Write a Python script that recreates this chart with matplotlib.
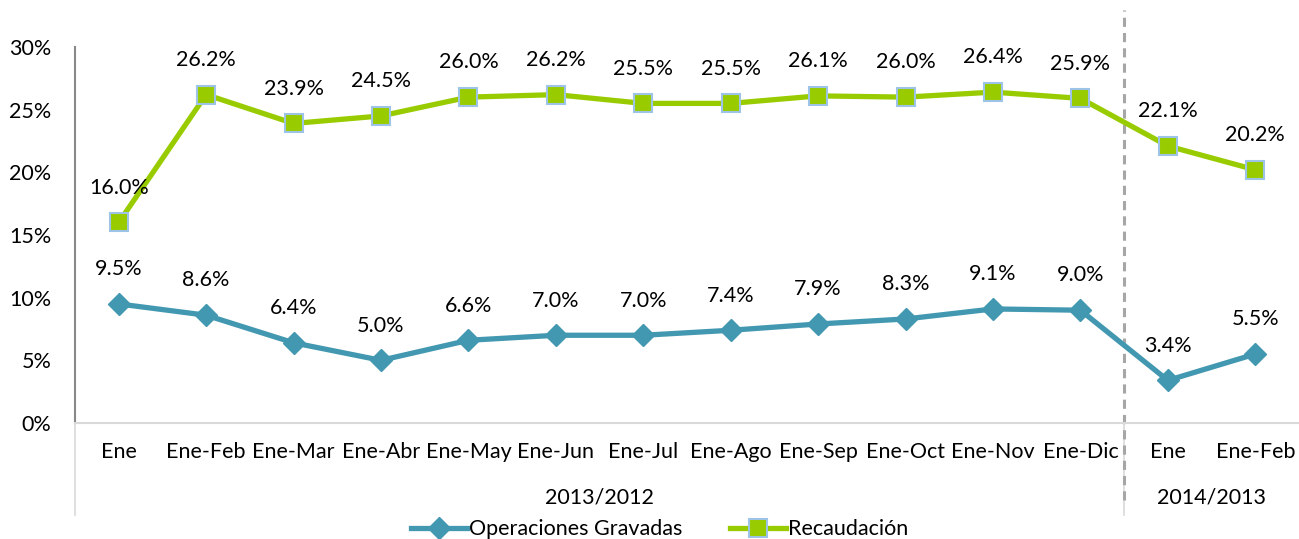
import matplotlib.pyplot as plt
from matplotlib.ticker import FuncFormatter
import matplotlib.transforms as mtransforms

plt.rcParams['font.family'] = ['Lato', 'DejaVu Sans']

categories = ['Ene', 'Ene-Feb', 'Ene-Mar', 'Ene-Abr', 'Ene-May', 'Ene-Jun', 'Ene-Jul',
              'Ene-Ago', 'Ene-Sep', 'Ene-Oct', 'Ene-Nov', 'Ene-Dic', 'Ene', 'Ene-Feb']
groups = ['2013/2012', '2014/2013']
group_sizes = [12, 2]
operaciones = [9.5, 8.6, 6.4, 5.0, 6.6, 7.0, 7.0, 7.4, 7.9, 8.3, 9.1, 9.0, 3.4, 5.5]
recaudacion = [16.0, 26.2, 23.9, 24.5, 26.0, 26.2, 25.5, 25.5, 26.1, 26.0, 26.4, 25.9, 22.1, 20.2]

teal = '#4298b0'
green = '#99cc00'
edge = '#9dc3e6'
fs = 15.5

fig = plt.figure(figsize=(12.99, 5.39), dpi=100)
ax = fig.add_axes([75 / 1299, 1 - 423 / 539, 1 - 75 / 1299, 376 / 539])

x = list(range(len(categories)))
ax.plot(x, operaciones, color=teal, lw=3.8, marker='D', ms=11, mfc=teal, mec=teal,
        label='Operaciones Gravadas', clip_on=False, zorder=3)
ax.plot(x, recaudacion, color=green, lw=3.8, marker='s', ms=13, mfc=green, mec=edge,
        mew=1.5, label='Recaudación', clip_on=False, zorder=3)

for xi, v in zip(x, operaciones):
    ax.annotate(f'{v:.1f}%', (xi, v), xytext=(0, 25), textcoords='offset points',
                ha='center', va='center', fontsize=fs)
for xi, v in zip(x, recaudacion):
    ax.annotate(f'{v:.1f}%', (xi, v), xytext=(0, 25), textcoords='offset points',
                ha='center', va='center', fontsize=fs)

ax.set_xlim(-0.5, len(categories) - 0.5)
ax.set_ylim(0, 30)
ax.set_yticks(range(0, 31, 5))
ax.yaxis.set_major_formatter(FuncFormatter(lambda v, p: f'{v:.0f}%'))
ax.set_xticks(x)
ax.set_xticklabels(categories)
ax.tick_params(axis='both', length=0, labelsize=fs, colors='black')
ax.tick_params(axis='x', pad=14)
ax.tick_params(axis='y', pad=17)

for s in ['top', 'right']:
    ax.spines[s].set_visible(False)
ax.spines['left'].set_color('#888888')
ax.spines['left'].set_linewidth(1.5)
ax.spines['bottom'].set_color('#d9d9d9')
ax.spines['bottom'].set_linewidth(1.5)

# group separators below the axis
ax.axvline(-0.5, ymin=-0.245, ymax=0, color='#d9d9d9', lw=1.2, clip_on=False)
ax.axvline(11.5, ymin=-0.245, ymax=0, color='#d9d9d9', lw=1.2, clip_on=False)
ax.axvline(11.5, ymin=-0.205, ymax=1.098, color='#a6a6a6', lw=2.2, ls=(0, (3, 2)),
           clip_on=False, zorder=2)

trans = mtransforms.blended_transform_factory(ax.transData, ax.transAxes)
start = 0
for g, n in zip(groups, group_sizes):
    ax.text(start + (n - 1) / 2, -0.197, g, transform=trans, ha='center', va='center',
            fontsize=fs)
    start += n

fig.legend(loc='center', bbox_to_anchor=(0.508, 0.018), ncol=2, frameon=False,
           fontsize=fs, handlelength=2.6, columnspacing=2.2, borderpad=0, handletextpad=0.1)

fig.savefig('out.png', dpi=100)
